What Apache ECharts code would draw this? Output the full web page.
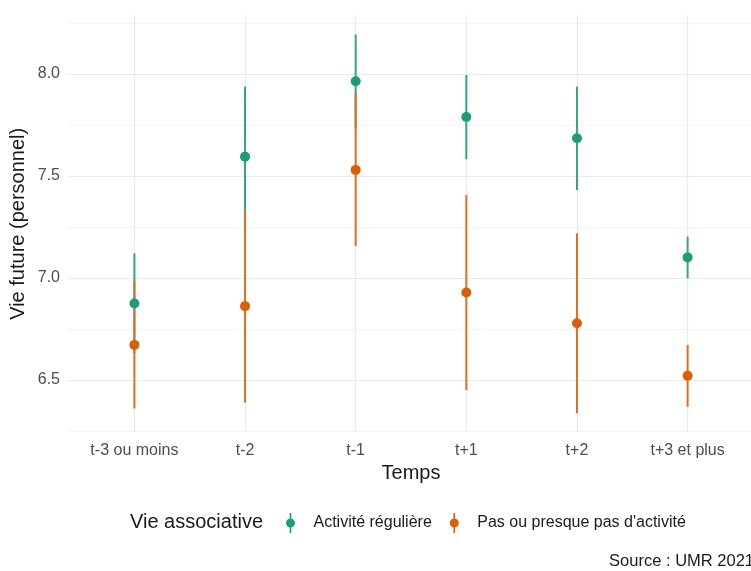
<!DOCTYPE html>
<html>
<head>
<meta charset="utf-8">
<script src="https://cdn.jsdelivr.net/npm/echarts@6/dist/echarts.min.js"></script>
<style>
html,body{margin:0;padding:0;background:#fff;}
#chart{width:751px;height:571px;}
</style>
</head>
<body>
<div id="chart"></div>
<script>
// ---- data ----
var categories = ['t-3 ou moins', 't-2', 't-1', 't+1', 't+2', 't+3 et plus'];
var seriesNames = ['Activité régulière', "Pas ou presque pas d'activité"];
var regMean = [6.875, 7.595, 7.965, 7.789, 7.685, 7.101];
var regLow  = [6.630, 7.252, 7.733, 7.582, 7.431, 6.998];
var regHigh = [7.120, 7.938, 8.194, 7.995, 7.938, 7.203];
var pasMean = [6.672, 6.862, 7.530, 6.929, 6.778, 6.521];
var pasLow  = [6.360, 6.390, 7.157, 6.451, 6.337, 6.369];
var pasHigh = [6.985, 7.330, 7.905, 7.407, 7.219, 6.672];
var yTicks = [6.5, 7.0, 7.5, 8.0];
var yMinorTicks = [6.25, 6.75, 7.25, 7.75, 8.25];
var yMin = 6.244, yMax = 8.287;

var colors = ['#1B9E77', '#D95F02'];
var lineColors = ['#33A582', '#DE6E22'];
var FONT = '"Liberation Sans", Arial, sans-serif';

function idx(arr) { return arr.map(function (v, i) { return [i, v]; }); }
function rangeData(lo, hi) { return lo.map(function (v, i) { return [i, v, hi[i]]; }); }

function errRender(color) {
  return function (params, api) {
    var x = api.value(0);
    var p1 = api.coord([x, api.value(1)]);
    var p2 = api.coord([x, api.value(2)]);
    return {
      type: 'line',
      shape: { x1: p1[0], y1: p1[1], x2: p2[0], y2: p2[1] },
      style: { stroke: color, lineWidth: 2 }
    };
  };
}

var legendIcon = 'path://M4.2,0L5.8,0L5.8,20L4.2,20Z M0.5,10A4.5,4.5,0,1,1,9.5,10A4.5,4.5,0,1,1,0.5,10Z';

var chart = echarts.init(document.getElementById('chart'), null, { renderer: 'canvas' });
chart.setOption({
  backgroundColor: '#ffffff',
  animation: false,
  textStyle: { fontFamily: FONT },
  title: [
    { text: 'Vie associative', left: 130, top: 512, padding: 0,
      textStyle: { fontSize: 20, fontWeight: 'normal', color: '#1a1a1a', fontFamily: FONT } },
    { text: 'Source : UMR 2021', right: -3, top: 553, padding: 0,
      textStyle: { fontSize: 16.5, fontWeight: 'normal', color: '#1a1a1a', fontFamily: FONT } }
  ],
  legend: {
    data: seriesNames.map(function (n) { return { name: n, icon: legendIcon }; }),
    left: 286, top: 513, padding: 0,
    itemWidth: 10, itemHeight: 20, itemGap: 18,
    textStyle: { fontSize: 16, color: '#1a1a1a', fontFamily: FONT, padding: [0, 0, 0, 13] }
  },
  grid: { left: 68, top: 15.5, width: 686, height: 416.7, outerBoundsMode: 'none' },
  xAxis: {
    type: 'value', min: -0.6, max: 5.6,
    name: 'Temps', nameLocation: 'middle', nameGap: 31, nameMoveOverlap: false,
    nameTextStyle: { fontSize: 20, color: '#1a1a1a', fontFamily: FONT },
    axisLine: { show: false },
    axisTick: { show: false, customValues: [0, 1, 2, 3, 4, 5] },
    axisLabel: {
      customValues: [0, 1, 2, 3, 4, 5], margin: 10,
      fontSize: 16, color: '#4D4D4D', fontFamily: FONT,
      formatter: function (v) { return categories[Math.round(v)]; }
    },
    splitLine: { show: true, lineStyle: { color: '#EBEBEB', width: 1.2 } }
  },
  yAxis: [{
    type: 'value', min: yMin, max: yMax,
    name: 'Vie future (personnel)', nameLocation: 'middle', nameGap: 40, nameMoveOverlap: false,
    nameTextStyle: { fontSize: 20, color: '#1a1a1a', fontFamily: FONT },
    axisLine: { show: false },
    axisTick: { show: false, customValues: yTicks },
    axisLabel: {
      customValues: yTicks, margin: 8,
      fontSize: 16, color: '#4D4D4D', fontFamily: FONT,
      formatter: function (v) { return v.toFixed(1); }
    },
    splitLine: { show: true, lineStyle: { color: '#EBEBEB', width: 1.2 } }
  }, {
    type: 'value', min: yMin, max: yMax, position: 'left',
    axisLine: { show: false },
    axisTick: { show: false, customValues: yMinorTicks },
    axisLabel: { show: false },
    splitLine: { show: true, lineStyle: { color: '#F4F4F4', width: 1 } }
  }],
  series: [
    { name: 'err-reg', type: 'custom', renderItem: errRender(lineColors[0]),
      data: rangeData(regLow, regHigh), encode: { x: 0, y: [1, 2] }, z: 2, silent: true },
    { name: 'err-pas', type: 'custom', renderItem: errRender(lineColors[1]),
      data: rangeData(pasLow, pasHigh), encode: { x: 0, y: [1, 2] }, z: 3, silent: true },
    { name: seriesNames[0], type: 'scatter', data: idx(regMean), symbolSize: 10,
      itemStyle: { color: colors[0], opacity: 1 }, z: 4 },
    { name: seriesNames[1], type: 'scatter', data: idx(pasMean), symbolSize: 10,
      itemStyle: { color: colors[1], opacity: 1 }, z: 5 }
  ]
});
</script>
</body>
</html>
